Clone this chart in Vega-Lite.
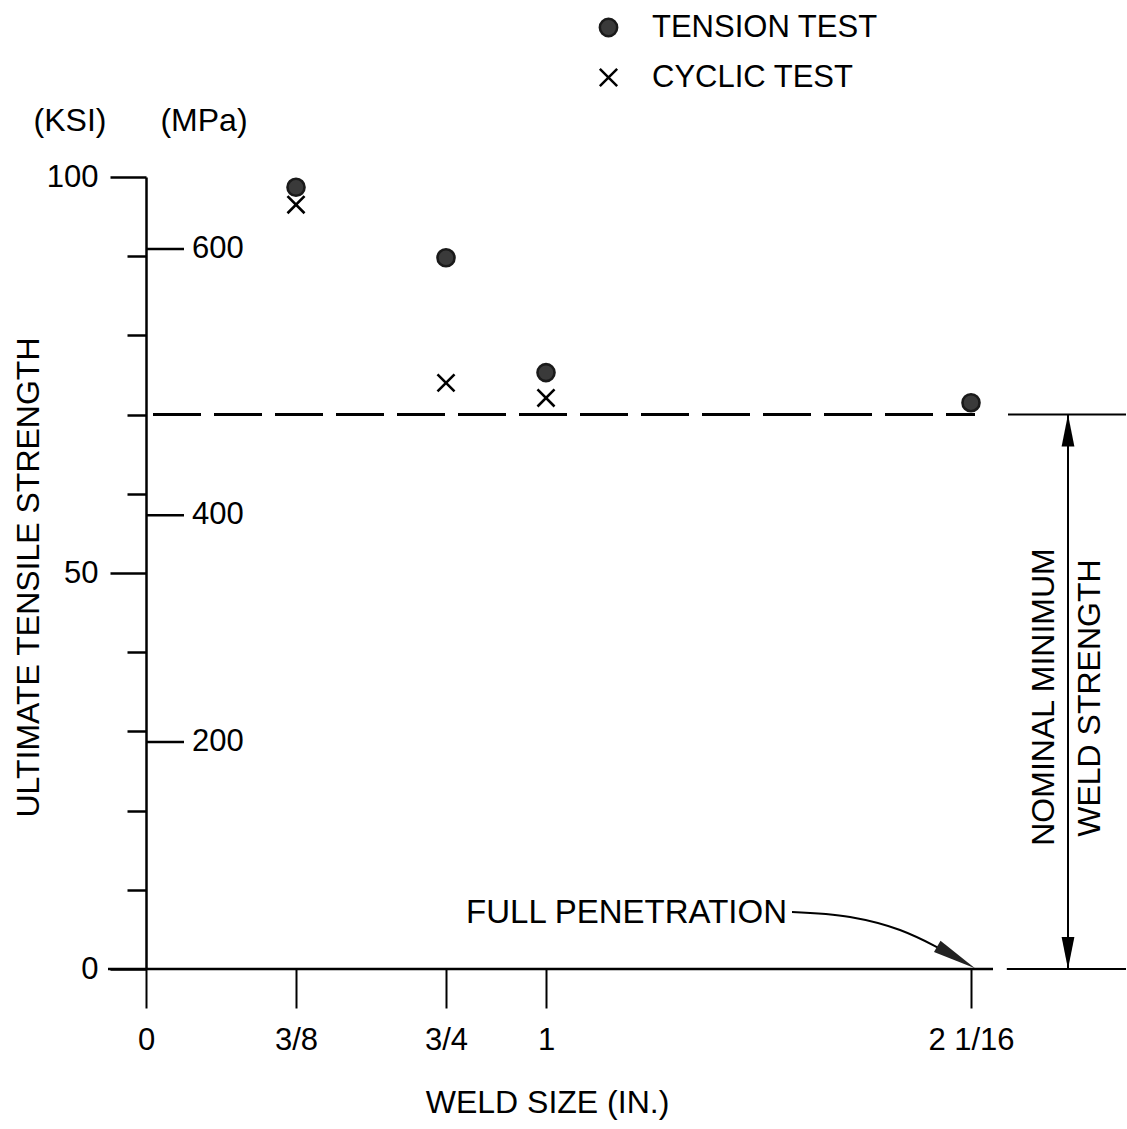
{
  "$schema": "https://vega.github.io/schema/vega-lite/v6.json",
  "width": 980,
  "height": 792,
  "autosize": {"type": "none"},
  "padding": {"left": 146, "top": 177, "right": 1, "bottom": 160},
  "background": "white",
  "config": {
    "view": {"stroke": null},
    "font": "Liberation Sans",
    "text": {"font": "Liberation Sans", "fontSize": 32, "color": "black"}
  },
  "encoding": {
    "x": {
      "field": "x", "type": "quantitative",
      "scale": {"domain": [0, 2.45], "nice": false, "zero": false},
      "axis": {
        "domain": false, "grid": false,
        "values": [0, 0.375, 0.75, 1, 2.0625],
        "labelExpr": "datum.value === 0 ? '0' : datum.value === 0.375 ? '3/8' : datum.value === 0.75 ? '3/4' : datum.value === 1 ? '1' : '2 1/16'",
        "tickSize": 39, "tickWidth": 2, "tickColor": "black",
        "labelFontSize": 31, "labelFont": "Liberation Sans", "labelColor": "black",
        "labelPadding": 17, "labelFlush": false, "labelOverlap": false,
        "title": "WELD SIZE (IN.)", "titleFontSize": 32, "titleFontWeight": "normal",
        "titleFont": "Liberation Sans", "titleColor": "black",
        "titleX": 401, "titleY": 133, "titleBaseline": "middle", "titleAlign": "center"
      }
    },
    "y": {
      "field": "y", "type": "quantitative",
      "scale": {"domain": [0, 100], "nice": false, "zero": false},
      "axis": {
        "domain": true, "domainColor": "black", "domainWidth": 2.5, "grid": false,
        "values": [0, 10, 20, 30, 40, 50, 60, 70, 80, 90, 100],
        "labelExpr": "datum.value % 50 === 0 ? datum.label : ''",
        "tickSize": {"condition": {"test": "datum.value % 50 === 0", "value": 36}, "value": 19},
        "tickWidth": 2.5, "tickColor": "black",
        "labelFontSize": 31, "labelFont": "Liberation Sans", "labelColor": "black",
        "labelPadding": 12, "labelOverlap": false,
        "title": "ULTIMATE TENSILE STRENGTH", "titleFontSize": 32, "titleFontWeight": "normal",
        "titleFont": "Liberation Sans", "titleColor": "black",
        "titleX": -118, "titleY": 400, "titleBaseline": "middle", "titleAlign": "center", "titleAngle": 270
      }
    }
  },
  "layer": [
    {
      "data": {"values": [{"x": 0, "x2": 2.0725, "y": 70}]},
      "mark": {"type": "rule", "color": "black", "strokeWidth": 3, "strokeDash": [48, 13], "strokeDashOffset": -7},
      "encoding": {"x2": {"field": "x2"}}
    },
    {
      "data": {"values": [{"x": 2.155, "x2": 2.45, "y": 70}, {"x": 2.152, "x2": 2.45, "y": 0}]},
      "mark": {"type": "rule", "color": "black", "strokeWidth": 2},
      "encoding": {"x2": {"field": "x2"}}
    },
    {
      "data": {"values": [{"x": -0.095, "x2": 2.1175, "y": 0}]},
      "mark": {"type": "rule", "color": "black", "strokeWidth": 2.5},
      "encoding": {"x2": {"field": "x2"}}
    },
    {
      "data": {"values": [{"x": 0, "y": 90.9, "label": "600"}, {"x": 0, "y": 57.3, "label": "400"}, {"x": 0, "y": 28.66, "label": "200"}]},
      "mark": {"type": "rule", "color": "black", "strokeWidth": 2.5},
      "encoding": {"x2": {"datum": 0.095}}
    },
    {
      "data": {"values": [{"x": 0, "y": 90.9, "label": "600"}, {"x": 0, "y": 57.3, "label": "400"}, {"x": 0, "y": 28.66, "label": "200"}]},
      "mark": {"type": "text", "align": "left", "baseline": "middle", "dx": 46, "fontSize": 31},
      "encoding": {"text": {"field": "label"}}
    },
    {
      "data": {"values": [{"x": 2.305, "y": 0, "y2": 70}]},
      "mark": {"type": "rule", "color": "black", "strokeWidth": 2},
      "encoding": {"y2": {"field": "y2"}}
    },
    {
      "data": {"values": [{"x": 2.305, "y": 70}]},
      "mark": {"type": "point", "shape": "M0,0L-2,-0.4L-2,0.4Z", "filled": true, "color": "black", "size": 1024, "angle": -90, "opacity": 1}
    },
    {
      "data": {"values": [{"x": 2.305, "y": 0}]},
      "mark": {"type": "point", "shape": "M0,0L-2,-0.4L-2,0.4Z", "filled": true, "color": "black", "size": 1024, "angle": 90, "opacity": 1}
    },
    {
      "data": {"values": [
        {"o": 1, "x": 1.615, "y": 7.2},
        {"o": 2, "x": 1.76, "y": 6.57},
        {"o": 3, "x": 1.885, "y": 4.92},
        {"o": 4, "x": 1.9725, "y": 2.9},
        {"o": 5, "x": 2.04, "y": 1.0}
      ]},
      "mark": {"type": "line", "color": "black", "strokeWidth": 2, "interpolate": "monotone"},
      "encoding": {"order": {"field": "o", "type": "quantitative"}}
    },
    {
      "data": {"values": [{"x": 2.0725, "y": 0.1}]},
      "mark": {"type": "point", "shape": "M0,0L-2,-0.3L-2,0.3Z", "filled": true, "color": "#222", "size": 1900, "angle": 30, "opacity": 1}
    },
    {
      "data": {"values": [
        {"x": 1.6025, "y": 7.07, "text": "FULL PENETRATION"}
      ]},
      "mark": {"type": "text", "align": "right", "baseline": "middle", "fontSize": 33},
      "encoding": {"text": {"field": "text"}}
    },
    {
      "data": {"values": [
        {"x": -0.19, "y": 107.07, "text": "(KSI)"},
        {"x": 0.145, "y": 107.07, "text": "(MPa)"}
      ]},
      "mark": {"type": "text", "align": "center", "baseline": "middle", "fontSize": 32},
      "encoding": {"text": {"field": "text"}}
    },
    {
      "data": {"values": [
        {"x": 2.245, "y": 34.34, "text": "NOMINAL MINIMUM"},
        {"x": 2.36, "y": 34.2, "text": "WELD  STRENGTH"}
      ]},
      "mark": {"type": "text", "align": "center", "baseline": "middle", "fontSize": 32, "angle": 270},
      "encoding": {"text": {"field": "text"}}
    },
    {
      "data": {"values": [
        {"series": "TENSION TEST", "x": 0.375, "y": 98.7},
        {"series": "TENSION TEST", "x": 0.75, "y": 89.8},
        {"series": "TENSION TEST", "x": 1, "y": 75.3},
        {"series": "TENSION TEST", "x": 2.0625, "y": 71.5},
        {"series": "CYCLIC TEST", "x": 0.375, "y": 96.5},
        {"series": "CYCLIC TEST", "x": 0.75, "y": 74.0},
        {"series": "CYCLIC TEST", "x": 1, "y": 72.1}
      ]},
      "mark": {"type": "point", "filled": true, "strokeWidth": 2.6, "size": 290, "opacity": 1},
      "encoding": {
        "shape": {
          "field": "series", "type": "nominal",
          "scale": {"domain": ["TENSION TEST", "CYCLIC TEST"], "range": ["circle", "M-1,-1L1,1M1,-1L-1,1"]},
          "legend": {
            "orient": "none", "legendX": 447, "legendY": -165, "title": null,
            "labelFontSize": 31, "labelFont": "Liberation Sans", "labelColor": "black", "labelLimit": 0,
            "symbolSize": 300, "symbolStrokeWidth": 2.5,
            "labelOffset": 28, "rowPadding": 18, "padding": 0
          }
        },
        "fill": {
          "field": "series", "type": "nominal",
          "scale": {"domain": ["TENSION TEST", "CYCLIC TEST"], "range": ["#3a3a3a", "transparent"]}
        },
        "stroke": {
          "field": "series", "type": "nominal",
          "scale": {"domain": ["TENSION TEST", "CYCLIC TEST"], "range": ["#1a1a1a", "black"]}
        }
      }
    }
  ]
}
